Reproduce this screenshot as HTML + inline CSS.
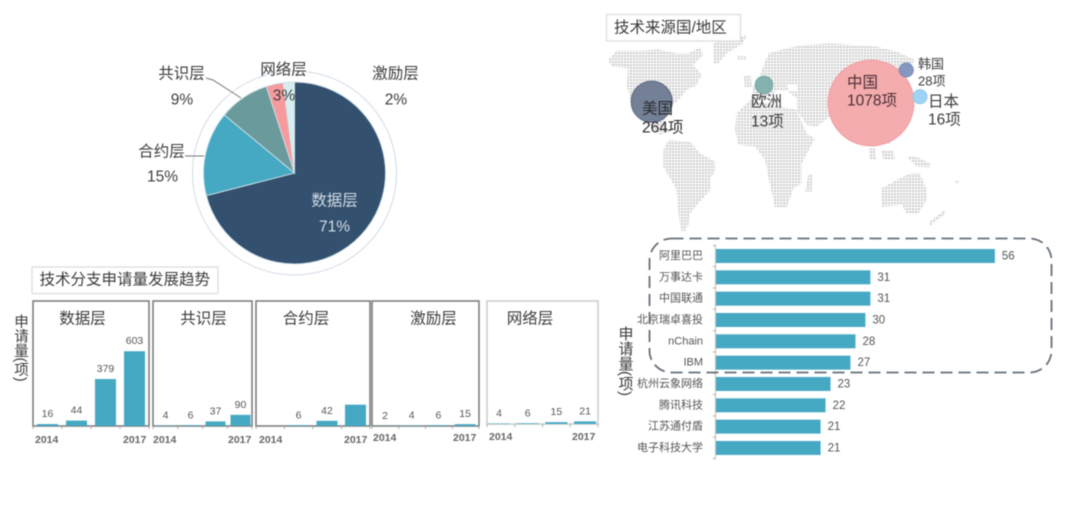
<!DOCTYPE html>
<html lang="zh">
<head>
<meta charset="utf-8">
<title>技术分支申请量与技术来源</title>
<style>
html,body{margin:0;padding:0;background:#fff;width:1080px;height:511px;overflow:hidden}
#stage{display:block;filter:blur(.55px)}
text{font-family:"Liberation Sans","Noto Sans CJK SC",sans-serif;fill:#3c3c3c}
</style>
</head>
<body>
<svg id="stage" width="1080" height="511" viewBox="0 0 1080 511" xmlns="http://www.w3.org/2000/svg">
  <defs>
    <pattern id="dots" patternUnits="userSpaceOnUse" width="9" height="9">
      <rect width="6.4" height="6.4" fill="#d0d0d0"></rect>
    </pattern>
  </defs>

  <g transform="translate(600,10) scale(.33333)" fill="url(#dots)">
    <polygon points="25,150 50,122 125,122 175,118 230,130 265,130 300,112 310,135 280,165 305,195 290,225 260,240 235,270 205,295 190,340 205,365 180,375 140,345 95,285 80,225 85,175 35,170"></polygon>
    <polygon points="340,100 360,90 440,75 430,100 380,130 355,160 340,160"></polygon>
    <polygon points="205,390 270,395 300,430 345,455 345,485 330,505 330,540 300,575 270,610 265,645 250,670 240,650 235,600 228,535 190,470 190,420"></polygon>
    <polygon points="405,360 410,310 450,270 520,285 590,300 620,370 645,385 605,460 605,520 580,535 560,592 525,592 505,500 495,450 465,410 415,405"></polygon>
    <polygon points="625,495 637,495 635,545 615,545"></polygon>
    <polygon points="480,195 505,130 560,115 610,105 690,100 760,105 830,110 890,125 945,150 925,175 905,215 915,250 900,300 880,345 870,400 840,400 820,410 790,380 760,345 720,340 690,320 650,350 620,345 590,300 590,265 560,240 530,240 500,270 455,265 460,230 480,210"></polygon>
    <polygon points="412,138 438,138 438,148 412,148"></polygon>
    <polygon points="432,200 452,195 456,230 434,232"></polygon>
    <polygon points="805,415 825,415 830,450 812,450"></polygon>
    <polygon points="845,420 880,420 885,450 850,450"></polygon>
    <polygon points="920,440 950,440 992,462 990,472 950,470"></polygon>
    <polygon points="845,535 890,510 930,490 960,490 980,540 980,570 955,610 920,610 905,585 845,590"></polygon>
    <polygon points="985,638 1032,602 1038,610 990,647"></polygon>
    <polygon points="1066,512 1075,512 1075,520 1066,520"></polygon>
    <polygon fill="#fff" points="560,222 590,222 592,245 565,243"></polygon>
  </g>

  <g id="map-layer"></g>

  <g>
    <rect x="606.5" y="14.5" width="134" height="26.5" fill="#fff" stroke="#dcdcdc" stroke-width="1.2"></rect>
    <text x="614" y="28" font-size="15.5" dominant-baseline="central">技术来源国/地区</text>
  </g>

  <g id="pie-layer"></g>

  <g>
    <rect x="32" y="267" width="186" height="26.5" fill="#fff" stroke="#dcdcdc" stroke-width="1.2"></rect>
    <text x="39.5" y="280" font-size="15.5" dominant-baseline="central">技术分支申请量发展趋势</text>
  </g>

  <text x="20" y="314" font-size="14.5" style="writing-mode:vertical-rl">申请量(项)</text>
  <g id="trend-layer"></g>

  <text x="625" y="326" font-size="15" style="writing-mode:vertical-rl">申请量(项)</text>
  <g id="rank-layer"></g>
  <rect x="649.5" y="238.5" width="402" height="134" rx="22" ry="22" fill="none" stroke="#667079" stroke-width="1.8" stroke-dasharray="12 6"></rect>
</svg>

<script>
// ---- chart data ----
const pieCategories = ["数据层", "合约层", "共识层", "网络层", "激励层"];
const pieShares = [71, 15, 9, 3, 2];

const trendYears = [2014, 2015, 2016, 2017];
const trendTitles = ["数据层", "共识层", "合约层", "激励层", "网络层"];
const dataLayerCounts = [16, 44, 379, 603];
const consensusCounts = [4, 6, 37, 90];
const contractCounts = [0, 6, 42, 172];
const incentiveCounts = [2, 4, 6, 15];
const networkCounts = [4, 6, 15, 21];
const contractLabelShown = [false, true, true, false];

const rankCategories = ["阿里巴巴", "万事达卡", "中国联通", "北京瑞卓喜投", "nChain", "IBM", "杭州云象网络", "腾讯科技", "江苏通付盾", "电子科技大学"];
const rankValues = [56, 31, 31, 30, 28, 27, 23, 22, 21, 21];

const regionNames = ["美国", "欧洲", "中国", "韩国", "日本"];
const regionCounts = [264, 13, 1078, 28, 16];

// ---- helpers ----
const NS = "http://www.w3.org/2000/svg";
function make(parent, tag, attrs, content) {
  const el = document.createElementNS(NS, tag);
  for (const k in attrs) el.setAttribute(k, attrs[k]);
  if (content !== undefined) el.textContent = content;
  parent.appendChild(el);
  return el;
}

// ---- pie ----
const pieLayer = document.getElementById("pie-layer");
const pieColors = ["#33506f", "#46a9c4", "#6a9a9c", "#f79a9d", "#d7eef0"];
const pieCx = 294.5, pieCy = 173, pieR = 91;
const pieRing = make(pieLayer, "circle", {cx: pieCx, cy: pieCy, r: 102, fill: "none", stroke: "#d2dce5", "stroke-width": 1});


const pieTotal = pieShares.reduce((a, b) => a + b, 0);
function piePoint(angle) {
  return [pieCx + pieR * Math.sin(angle), pieCy - pieR * Math.cos(angle)];
}
let pieAngle = 0;
pieShares.forEach((share, i) => {
  const sweep = share / pieTotal * Math.PI * 2;
  const a = piePoint(pieAngle), b = piePoint(pieAngle + sweep);
  const d = `M${pieCx} ${pieCy}L${a[0]} ${a[1]}A${pieR} ${pieR} 0 ${sweep > Math.PI ? 1 : 0} 1 ${b[0]} ${b[1]}Z`;
  const slice = make(pieLayer, "path", {d: d, fill: pieColors[i], stroke: "#cfe3ea", "stroke-width": 0.9});
  
  
  pieAngle += sweep;
});
const pieLabelSpots = [
  [334.5, 201, 334.5, 227, "#d3dbe4"],
  [161.5, 152, 162.5, 177, "#3c3c3c"],
  [181.5, 74, 182, 100, "#3c3c3c"],
  [283.5, 70, 284, 96, "#3c3c3c"],
  [395.5, 74, 396, 100, "#3c3c3c"]
];
pieCategories.forEach((name, i) => {
  const s = pieLabelSpots[i];
  const nameLabel = make(pieLayer, "text", {x: s[0], y: s[1], "font-size": 15.5, "text-anchor": "middle", "dominant-baseline": "central", style: "fill:" + s[4]}, name);
  
  
  const pct = make(pieLayer, "text", {x: s[2], y: s[3], "font-size": 15.5, "text-anchor": "middle", "dominant-baseline": "central", style: "fill:" + s[4]}, pieShares[i] + "%");
  
  
});
const leaderA = make(pieLayer, "polyline", {points: "206,78 213,80 241,98", fill: "none", stroke: "#777", "stroke-width": 1});


const leaderB = make(pieLayer, "polyline", {points: "185,156 204,156", fill: "none", stroke: "#777", "stroke-width": 1});



// ---- small multiples ----
const trendLayer = document.getElementById("trend-layer");
const trendK = 0.124;
function trendY(base, v) { return base - v * trendK; }
const panelLayouts = [
  {left: 33, right: 149, base: 426, step: 29, pad: 4, bar: 21, tx: [35, 123], ty: 440, lx: 82.5, stroke: "#777"},
  {left: 153, right: 252, base: 426, step: 25, pad: 2.5, bar: 20, tx: [153, 228], ty: 440, lx: 203.5, stroke: "#777"},
  {left: 256, right: 370, base: 426, step: 28.5, pad: 3.5, bar: 21, tx: [259, 344], ty: 440, lx: 306, stroke: "#777"},
  {left: 372, right: 479, base: 426, step: 26.7, pad: 2.5, bar: 21, tx: [373, 453], ty: 438, lx: 433.5, stroke: "#777"},
  {left: 487, right: 598, base: 424, step: 28.7, pad: 1, bar: 22, tx: [489, 572], ty: 437, lx: 530, stroke: "#ccc"}
];
const panelSeries = [dataLayerCounts, consensusCounts, contractCounts, incentiveCounts, networkCounts];
panelLayouts.forEach((p, pi) => {
  const frame = make(trendLayer, "rect", {x: p.left, y: 301, width: p.right - p.left, height: p.base - 301, fill: "#fff", stroke: p.stroke, "stroke-width": 1.5});
  
  
  const title = make(trendLayer, "text", {x: p.lx, y: 319, "font-size": 15.5, "text-anchor": "middle", "dominant-baseline": "central"}, trendTitles[pi]);
  
  
  for (let t = 0; t <= trendYears.length; t++) {
    const tx = p.left + t * (p.right - p.left) / trendYears.length;
    const tick = make(trendLayer, "line", {x1: tx, x2: tx, y1: p.base, y2: p.base + 3, stroke: "#aaa", "stroke-width": 1});
    
    
  }
  panelSeries[pi].forEach((v, i) => {
    const x = p.left + p.pad + i * p.step;
    const top = trendY(p.base, v);
    const bar = make(trendLayer, "rect", {x: x, y: top, width: p.bar, height: p.base - top, fill: "#46a9c4"});
    
    
    if (pi !== 2 || contractLabelShown[i]) {
      const lab = make(trendLayer, "text", {x: x + p.bar / 2, y: top - 7, "font-size": 10.5, "text-anchor": "middle", style: "fill:#555"}, v);
      
      
    }
  });
  [0, trendYears.length - 1].forEach((yi, k) => {
    const yl = make(trendLayer, "text", {x: p.tx[k], y: p.ty, "font-size": 10.5, "font-weight": "bold", "dominant-baseline": "central", style: "fill:#666"}, trendYears[yi]);
    
    
  });
});

// ---- ranking bars ----
const rankLayer = document.getElementById("rank-layer");
const rankX0 = 716, rankUnit = 4.98, rankY0 = 249, rankStep = 21.33, rankH = 14;
function rankX(v) { return rankX0 + v * rankUnit; }
function rankY(i) { return rankY0 + i * rankStep; }
const rankAxis = make(rankLayer, "line", {x1: rankX0 - 0.5, x2: rankX0 - 0.5, y1: rankY(0) - 3.7, y2: rankY(rankCategories.length) - 3.7, stroke: "#cbbcb4", "stroke-width": 1});


for (let t = 0; t <= rankCategories.length; t++) {
  const tick = make(rankLayer, "line", {x1: rankX0 - 3, x2: rankX0, y1: rankY(t) - 3.7, y2: rankY(t) - 3.7, stroke: "#b9a79e", "stroke-width": 1});
  
  
}
rankCategories.forEach((name, i) => {
  const v = rankValues[i];
  const bar = make(rankLayer, "rect", {x: rankX0, y: rankY(i), width: rankX(v) - rankX0, height: rankH, fill: "#46a9c4"});
  
  
  const cat = make(rankLayer, "text", {x: 703, y: rankY(i) + rankH / 2, "font-size": 11, "text-anchor": "end", "dominant-baseline": "central", style: "fill:#555"}, name);
  
  
  const val = make(rankLayer, "text", {x: rankX(v) + 7, y: rankY(i) + rankH / 2 + 0.5, "font-size": 11.5, "dominant-baseline": "central", style: "fill:#555"}, v);
  
  
});

// ---- map bubbles ----
const mapLayer = document.getElementById("map-layer");
function bubbleR(v, k) { return k * Math.sqrt(1.7 * v + 10); }
const regionStyles = [
  {cx: 651.7, cy: 101.7, k: .96, fill: "#6a788f", stroke: "#4f5f78", op: .92, nx: 642, ny: 109, vy: 128, size: 15.5, color: "#2a2a30"},
  {cx: 764, cy: 85, k: 1.55, fill: "#7fb0ac", stroke: "#6fa29e", op: .95, nx: 751, ny: 102, vy: 122, size: 15.5, color: "#3c3c3c"},
  {cx: 871, cy: 103, k: 1, fill: "#f5a8aa", stroke: "#f09a9d", op: .95, nx: 847, ny: 83, vy: 101, size: 15.5, color: "#4a3035"},
  {cx: 906.3, cy: 70, k: .92, fill: "#7f93bd", stroke: "#7187b3", op: .95, nx: 918, ny: 64, vy: 81, size: 13, color: "#3c3c3c"},
  {cx: 920, cy: 96.7, k: 1.15, fill: "#9fd2f3", stroke: "#93c9ec", op: 1, nx: 928, ny: 102, vy: 120, size: 15.5, color: "#3c3c3c"}
];
regionNames.forEach((name, i) => {
  const s = regionStyles[i];
  const v = regionCounts[i];
  const bubble = make(mapLayer, "circle", {cx: s.cx, cy: s.cy, r: bubbleR(v, s.k), fill: s.fill, stroke: s.stroke, "stroke-width": 1, opacity: s.op});
  
  
});
regionNames.forEach((name, i) => {
  const s = regionStyles[i];
  const nameText = make(mapLayer, "text", {x: s.nx, y: s.ny, "font-size": s.size, "dominant-baseline": "central", style: "fill:" + s.color}, name);
  
  
  const countText = make(mapLayer, "text", {x: s.nx, y: s.vy, "font-size": s.size, "dominant-baseline": "central", style: "fill:" + s.color}, regionCounts[i] + "项");
  
  
});
</script>
</body>
</html>
